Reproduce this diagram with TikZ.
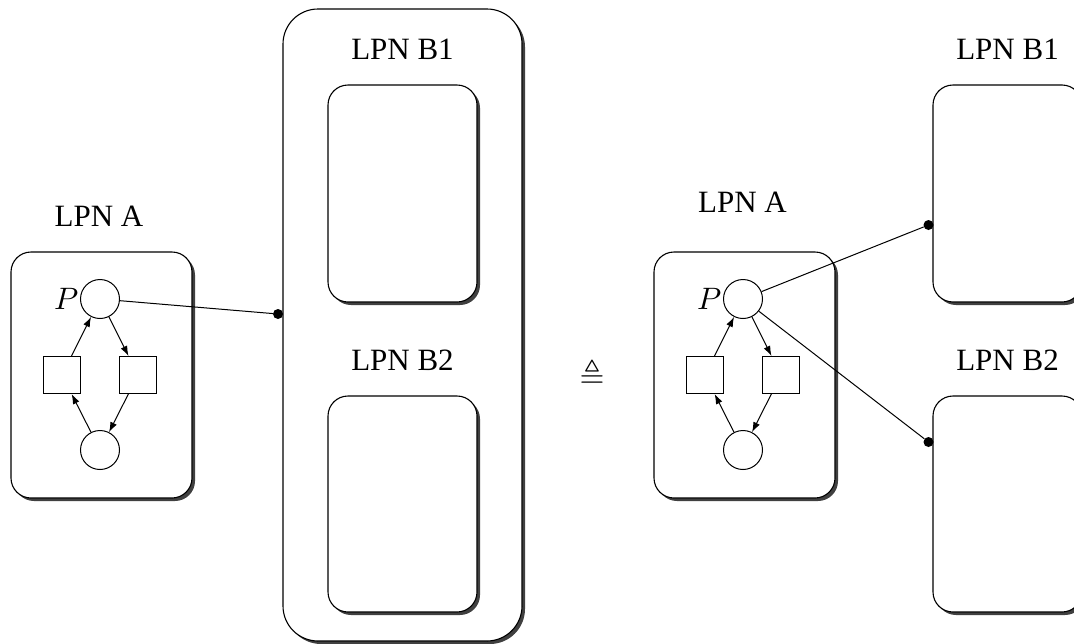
\documentclass[tikz,border=0pt]{standalone}
\usepackage{graphicx}
\usepackage{amssymb}
\usepackage{fontspec}
\setmainfont{Liberation Serif}
\usetikzlibrary{shadows,arrows.meta}

% math symbols are set at 10pt and enlarged, since the math fonts do not scale freely
\newcommand{\bigmath}[2]{{\fontsize{10}{12}\selectfont\scalebox{#1}{$#2$}}}

\tikzset{
  every node/.style={font=\fontsize{31}{37}\selectfont},
  lpnbox/.style={draw, line width=1.1pt, fill=white, rounded corners=20pt,
    drop shadow={shadow xshift=3pt, shadow yshift=-3pt, fill=black!75, opacity=1}},
  place/.style={draw, circle, line width=1pt, minimum size=39pt, inner sep=0pt},
  transition/.style={draw, rectangle, line width=1pt, minimum size=37pt, inner sep=0pt},
  arc/.style={line width=1pt, -{Latex[length=10pt,width=7pt]}},
  port/.style={circle, fill=black, minimum size=10pt, inner sep=0pt},
  link/.style={line width=1pt},
  boxlabel/.style={inner sep=0pt},
  plabel/.style={label={[inner sep=1.5pt]left:\bigmath{3.1}{P}}}
}

\begin{document}
\begin{tikzpicture}[x=1pt, y=-1pt]
\useasboundingbox (0,0) rectangle (1074,643);

% ---------- left: LPN A connected to the composite LPN B ----------
\node[boxlabel] (lblA) at (99,216.5) {LPN A};
\node[lpnbox, minimum width=181pt, minimum height=246pt] (A) at (101.5,375) {};
\node[place, plabel] (P) at (100,299) {};
\node[place] (Q) at (100,450) {};
\node[transition] (t1) at (62,375) {};
\node[transition] (t2) at (138,375) {};
\draw[arc] (t1) -- (P);
\draw[arc] (P) -- (t2);
\draw[arc] (t2) -- (Q);
\draw[arc] (Q) -- (t1);

\node[lpnbox, rounded corners=35pt, minimum width=239pt, minimum height=632pt] (B) at (402.5,325) {};
\node[boxlabel] (lblB1) at (402.5,49) {LPN B1};
\node[lpnbox, minimum width=149pt, minimum height=217pt] (B1) at (402.5,193.5) {};
\node[boxlabel] (lblB2) at (402.5,360) {LPN B2};
\node[lpnbox, minimum width=149pt, minimum height=216pt] (B2) at (402.5,504) {};

\node[port] (dB) at (278,314) {};
\draw[link] (P) -- (dB);

% ---------- equivalence ----------
\node (eq) at (592,374) {\bigmath{3.2}{\triangleq}};

% ---------- right: LPN A connected to B1 and B2 directly ----------
\node[boxlabel] (rlblA) at (742.5,202) {LPN A};
\node[lpnbox, minimum width=181pt, minimum height=246pt] (rA) at (744.5,375) {};
\node[place, plabel] (rP) at (743,299) {};
\node[place] (rQ) at (743,450) {};
\node[transition] (rt1) at (705,375) {};
\node[transition] (rt2) at (781,375) {};
\draw[arc] (rt1) -- (rP);
\draw[arc] (rP) -- (rt2);
\draw[arc] (rt2) -- (rQ);
\draw[arc] (rQ) -- (rt1);

\node[boxlabel] (rlblB1) at (1007.5,49) {LPN B1};
\node[lpnbox, minimum width=149pt, minimum height=217pt] (rB1) at (1007.5,193.5) {};
\node[boxlabel] (rlblB2) at (1007.5,360) {LPN B2};
\node[lpnbox, minimum width=149pt, minimum height=216pt] (rB2) at (1007.5,504) {};

\node[port] (dB1) at (928.5,225) {};
\node[port] (dB2) at (928.5,442) {};
\draw[link] (rP) -- (dB1);
\draw[link] (rP) -- (dB2);
\end{tikzpicture}
\end{document}
